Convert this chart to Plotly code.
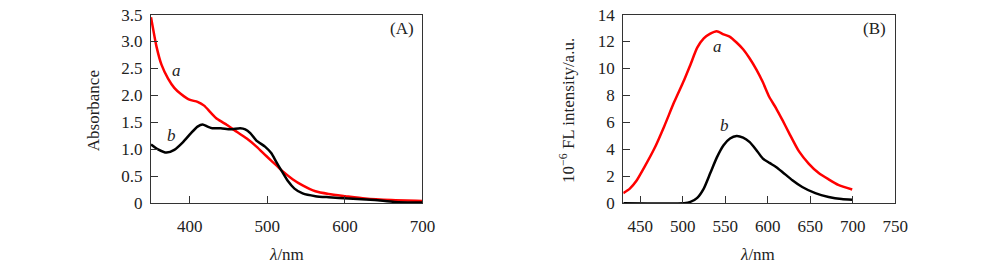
import plotly.graph_objects as go

# Panel A: absorbance spectra
abs_wl_a = [350, 357, 363.5, 372, 380, 389, 399.5, 410, 418.5, 427, 435.5, 448, 461, 473.5, 486, 499, 511.7, 520, 533, 545.5, 562, 579, 600.5, 626, 660, 700]
abs_a = [3.45, 2.91, 2.57, 2.31, 2.14, 2.02, 1.92, 1.88, 1.81, 1.68, 1.56, 1.45, 1.32, 1.20, 1.05, 0.87, 0.70, 0.59, 0.44, 0.33, 0.22, 0.17, 0.13, 0.086, 0.057, 0.04]
abs_wl_b = [350, 359, 370, 380, 391, 401.6, 410, 416.5, 423, 429, 440, 452.4, 465, 471.5, 478, 486, 497, 505, 511.7, 518, 526.5, 535, 545.5, 562, 579, 605, 638.6, 664, 700]
abs_b = [1.09, 1.00, 0.94, 0.99, 1.13, 1.30, 1.42, 1.46, 1.42, 1.39, 1.39, 1.37, 1.39, 1.37, 1.30, 1.16, 1.05, 0.93, 0.76, 0.61, 0.41, 0.27, 0.18, 0.13, 0.11, 0.086, 0.057, 0.023, 0.011]

# Panel B: fluorescence spectra
fl_wl_a = [430, 437.7, 445.5, 455, 466.7, 478, 490, 501.5, 509, 517, 524.7, 532.4, 540, 548, 555.6, 563.3, 571, 578.8, 586.5, 594, 602, 609.7, 617.5, 625, 636.8, 648.4, 660, 671.6, 683, 699.4]
fl_a = [0.74, 1.08, 1.66, 2.69, 4.07, 5.68, 7.52, 9.13, 10.28, 11.54, 12.23, 12.58, 12.76, 12.53, 12.35, 11.93, 11.43, 10.74, 9.93, 9.01, 7.86, 7.06, 6.14, 5.22, 3.84, 2.92, 2.23, 1.77, 1.36, 1.01]
fl_wl_b = [430, 501.5, 509, 517, 524.7, 532.4, 540, 548, 555.6, 563.3, 571, 578.8, 586.5, 594, 602, 609.7, 617.5, 629, 640.6, 656, 671.6, 687, 699.4]
fl_b = [0, 0, 0.09, 0.39, 1.08, 2.23, 3.38, 4.30, 4.80, 4.99, 4.87, 4.53, 3.95, 3.33, 2.99, 2.69, 2.30, 1.70, 1.20, 0.74, 0.46, 0.30, 0.25]

a_yticks = [0, 0.5, 1.0, 1.5, 2.0, 2.5, 3.0, 3.5]
a_yticktext = ["0", "0.5", "1.0", "1.5", "2.0", "2.5", "3.0", "3.5"]
a_xticks = [400, 500, 600, 700]
b_yticks = [0, 2, 4, 6, 8, 10, 12, 14]
b_xticks = [450, 500, 550, 600, 650, 700, 750]

RED = "#ff0000"
BLACK = "#000000"
FONT = "Liberation Serif"

fig = go.Figure()
fig.add_trace(go.Scatter(x=abs_wl_a, y=abs_a, mode="lines", line=dict(color=RED, width=2.5, shape="spline", smoothing=0.6), xaxis="x", yaxis="y", name="a"))
fig.add_trace(go.Scatter(x=abs_wl_b, y=abs_b, mode="lines", line=dict(color=BLACK, width=2.5, shape="spline", smoothing=0.6), xaxis="x", yaxis="y", name="b"))
fig.add_trace(go.Scatter(x=fl_wl_a, y=fl_a, mode="lines", line=dict(color=RED, width=2.5, shape="spline", smoothing=0.6), xaxis="x2", yaxis="y2", name="a"))
fig.add_trace(go.Scatter(x=fl_wl_b, y=fl_b, mode="lines", line=dict(color=BLACK, width=2.5, shape="spline", smoothing=0.6), xaxis="x2", yaxis="y2", name="b"))

ydom = [1 - 208.5 / 276, 1 - 6 / 276]
axis_common = dict(showline=True, linecolor="#333", linewidth=1.2, mirror=True, ticks="inside", ticklen=7,
                   tickcolor="#333", showgrid=False, zeroline=False, ticklabeloverflow="allow",
                   tickfont=dict(family=FONT, size=17, color="#222"))

fig.update_layout(
    width=1000, height=276, margin=dict(l=0, r=0, t=0, b=0),
    paper_bgcolor="white", plot_bgcolor="white", showlegend=False,
    xaxis=dict(domain=[153 / 1000, 428 / 1000], range=[350, 700], tickvals=a_xticks, anchor="y", ticklabelstandoff=7, **axis_common),
    yaxis=dict(domain=ydom, range=[0, 3.5], tickvals=a_yticks, ticktext=a_yticktext, anchor="x", ticklabelstandoff=4, **axis_common),
    xaxis2=dict(domain=[631.5 / 1000, 907 / 1000], range=[430, 750], tickvals=b_xticks, anchor="y2", ticklabelstandoff=7, **axis_common),
    yaxis2=dict(domain=ydom, range=[0, 14], tickvals=b_yticks, anchor="x2", ticklabelstandoff=4, **axis_common),
)

ann_font = dict(family=FONT, size=17, color="#222")
anns = [
    dict(x=407, y=21, text="(A)"),
    dict(x=886, y=21, text="(B)"),
    dict(x=179, y=66, text="<i>a</i>"),
    dict(x=174, y=136, text="<i>b</i>"),
    dict(x=727, y=40, text="<i>a</i>"),
    dict(x=734, y=125, text="<i>b</i>"),
    dict(x=290, y=264, text="<i>λ</i>/nm"),
    dict(x=767, y=264, text="<i>λ</i>/nm"),
    dict(x=95, y=109, text="Absorbance", textangle=-90),
    dict(x=575, y=109, text="10<sup>−6</sup> FL intensity/a.u.", textangle=-90),
]
for a in anns:
    fig.add_annotation(xref="paper", yref="paper", x=a["x"] / 1000, y=1 - a["y"] / 276,
                       text=a["text"], showarrow=False, xanchor="center", yanchor="middle",
                       textangle=a.get("textangle", 0), font=ann_font)

fig.write_html("out.html")
